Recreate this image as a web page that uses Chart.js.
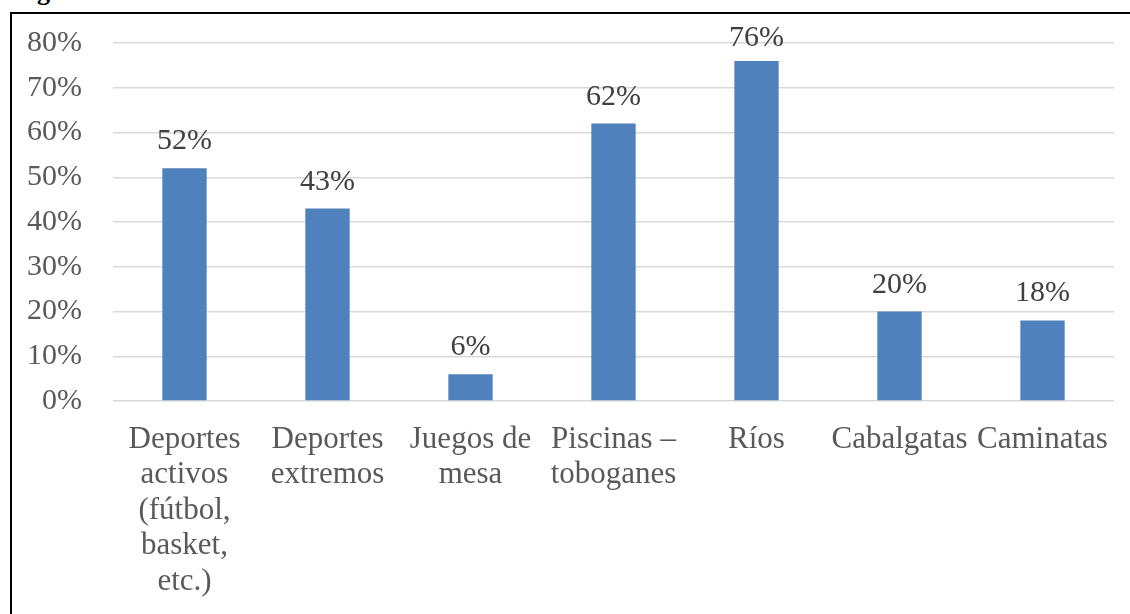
<!DOCTYPE html>
<html lang="es">
<head>
    <meta charset="UTF-8">
    <title>Actividades preferidas</title>
    <script src="https://cdn.jsdelivr.net/npm/chart.js"></script>
    <style>
        body {
            margin: 0;
            background: #fff;
            width: 1130px;
            height: 614px;
            overflow: hidden;
            position: relative;
        }
        .caption {
            position: absolute;
            left: 14px;
            top: -21px;
            font: bold 26px "Liberation Serif", "Times New Roman", serif;
            line-height: 26px;
            color: #000;
        }
        .frame {
            position: absolute;
            left: 10px;
            top: 12px;
            width: 1130px;
            height: 620px;
            border-left: 2px solid #000;
            border-top: 2px solid #000;
        }
        #chart {
            position: absolute;
            left: 0;
            top: 0;
        }
    </style>
</head>
<body>
    <div class="caption">Figura</div>
    <div class="frame"></div>
    <canvas id="chart" width="1130" height="614"></canvas>

    <script>
        // categories (multi-line labels as in the original chart)
        const categories = [
            ['Deportes', 'activos', '(fútbol,', 'basket,', 'etc.)'],
            ['Deportes', 'extremos'],
            ['Juegos de', 'mesa'],
            ['Piscinas –', 'toboganes'],
            ['Ríos'],
            ['Cabalgatas'],
            ['Caminatas']
        ];
        const percentages = [52, 43, 6, 62, 76, 20, 18];
        const yTicks = [0, 10, 20, 30, 40, 50, 60, 70, 80];

        const serif = '"Liberation Serif", "Times New Roman", serif';

        // value labels above each bar
        const valueLabels = {
            id: 'valueLabels',
            afterDatasetsDraw(chart) {
                const ctx = chart.ctx;
                const meta = chart.getDatasetMeta(0);
                ctx.save();
                ctx.font = '30px ' + serif;
                ctx.fillStyle = '#404040';
                ctx.textAlign = 'center';
                ctx.textBaseline = 'alphabetic';
                meta.data.forEach((bar, i) => {
                    // keep the label from running off the top of the frame
                    const y = Math.max(bar.y - 19, 46);
                    ctx.fillText(percentages[i] + '%', bar.x, y);
                });
                ctx.restore();
            }
        };

        new Chart(document.getElementById('chart'), {
            type: 'bar',
            data: {
                labels: categories,
                datasets: [{
                    data: percentages,
                    backgroundColor: '#4f81bd',
                    borderWidth: 0,
                    categoryPercentage: 1,
                    barPercentage: 0.31
                }]
            },
            options: {
                responsive: false,
                animation: false,
                layout: { padding: { top: 43, right: 15, left: 0, bottom: 0 } },
                plugins: {
                    legend: { display: false },
                    tooltip: { enabled: false }
                },
                scales: {
                    x: {
                        grid: { display: false, drawTicks: false },
                        border: { display: false },
                        ticks: {
                            color: '#595959',
                            font: { family: serif, size: 31, lineHeight: 1.145 },
                            padding: 21,
                            maxRotation: 0,
                            minRotation: 0,
                            autoSkip: false
                        },
                        afterFit(scale) { scale.height = 614 - 401; }
                    },
                    y: {
                        min: 0,
                        max: 80,
                        afterBuildTicks(scale) {
                            scale.ticks = yTicks.map(v => ({ value: v }));
                        },
                        // invisible tick marks give the gap between labels and plot
                        grid: {
                            color: '#d9d9d9',
                            lineWidth: 1.5,
                            drawTicks: true,
                            tickLength: 31,
                            tickColor: 'rgba(0,0,0,0)'
                        },
                        border: { display: false },
                        ticks: {
                            color: '#595959',
                            font: { family: serif, size: 30 },
                            padding: 0,
                            callback: v => v + '%'
                        },
                        afterFit(scale) { scale.width = 113; }
                    }
                }
            },
            plugins: [valueLabels]
        });
    </script>
</body>
</html>
